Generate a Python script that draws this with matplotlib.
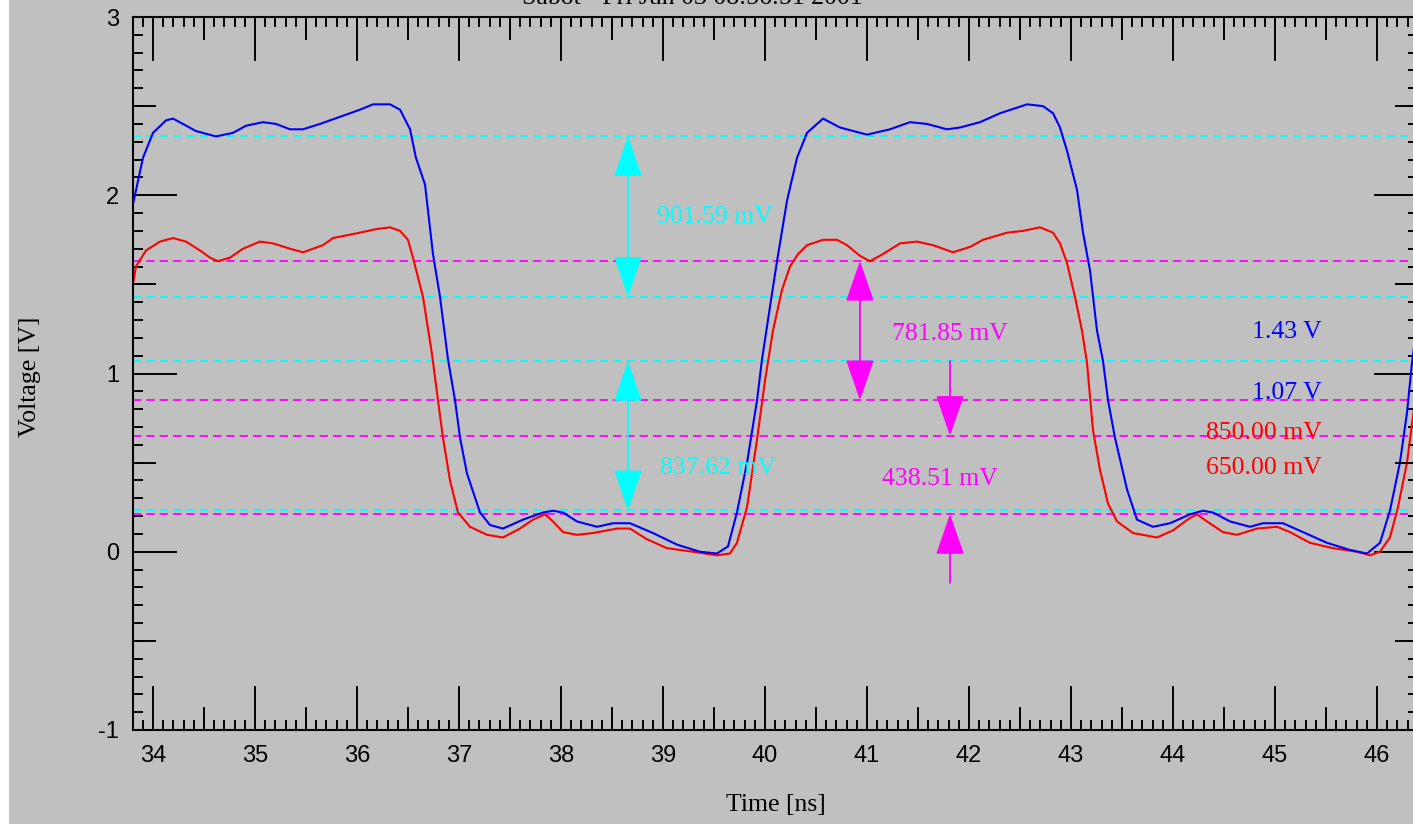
import numpy as np
import matplotlib
matplotlib.use('Agg')
import matplotlib.pyplot as plt
from matplotlib.ticker import MultipleLocator, FixedLocator
from matplotlib.patches import Rectangle, FancyArrowPatch

plt.rcParams['lines.scale_dashes'] = False
plt.rcParams['axes.unicode_minus'] = False

# --- data ---
t_blue = [33.804, 33.902, 34.000, 34.127, 34.196, 34.294, 34.422, 34.618, 34.784, 34.912,
          35.078, 35.206, 35.343, 35.471, 35.637, 35.833, 36.029, 36.157, 36.324, 36.422,
          36.520, 36.578, 36.667, 36.745, 36.814, 36.892, 36.961, 37.010, 37.078, 37.206,
          37.304, 37.431, 37.627, 37.824, 37.922, 38.020, 38.157, 38.353, 38.510, 38.676,
          38.902, 39.137, 39.363, 39.529, 39.637, 39.725, 39.824, 39.922, 39.971, 40.069,
          40.118, 40.216, 40.314, 40.412, 40.569, 40.735, 41.000, 41.225, 41.422, 41.588,
          41.784, 41.912, 42.108, 42.304, 42.569, 42.725, 42.824, 42.892, 42.961, 43.059,
          43.118, 43.186, 43.255, 43.314, 43.363, 43.431, 43.549, 43.647, 43.804, 43.971,
          44.167, 44.294, 44.392, 44.559, 44.755, 44.882, 45.078, 45.275, 45.510, 45.735,
          45.902, 46.029, 46.127, 46.225, 46.294, 46.343, 46.402]
v_blue = [1.95, 2.21, 2.35, 2.42, 2.43, 2.40, 2.36, 2.33, 2.35, 2.39,
          2.41, 2.40, 2.37, 2.37, 2.40, 2.44, 2.48, 2.51, 2.51, 2.48,
          2.37, 2.21, 2.06, 1.67, 1.43, 1.08, 0.85, 0.64, 0.44, 0.22,
          0.15, 0.13, 0.18, 0.22, 0.23, 0.22, 0.17, 0.14, 0.16, 0.16,
          0.105, 0.04, 0.00, -0.01, 0.03, 0.22, 0.50, 0.85, 1.08, 1.45,
          1.63, 1.97, 2.21, 2.35, 2.43, 2.38, 2.34, 2.37, 2.41, 2.40,
          2.37, 2.38, 2.41, 2.46, 2.51, 2.50, 2.46, 2.38, 2.25, 2.03,
          1.79, 1.58, 1.24, 1.07, 0.85, 0.64, 0.35, 0.18, 0.14, 0.16,
          0.21, 0.23, 0.22, 0.17, 0.14, 0.16, 0.16, 0.11, 0.05, 0.01,
          -0.01, 0.05, 0.23, 0.50, 0.78, 1.06, 1.32]

t_red = [33.804, 33.833, 33.931, 34.069, 34.196, 34.324, 34.461, 34.559, 34.637, 34.755,
         34.882, 35.049, 35.176, 35.343, 35.471, 35.667, 35.765, 36.029, 36.186, 36.324,
         36.422, 36.500, 36.549, 36.647, 36.735, 36.794, 36.843, 36.912, 36.990, 37.108,
         37.275, 37.431, 37.598, 37.725, 37.843, 37.922, 38.020, 38.157, 38.314, 38.549,
         38.676, 38.843, 39.039, 39.294, 39.529, 39.657, 39.725, 39.824, 39.922, 40.000,
         40.078, 40.167, 40.245, 40.324, 40.412, 40.569, 40.706, 40.804, 40.931, 41.029,
         41.157, 41.324, 41.490, 41.647, 41.843, 42.010, 42.137, 42.373, 42.529, 42.696,
         42.824, 42.892, 42.961, 43.039, 43.108, 43.157, 43.216, 43.284, 43.363, 43.451,
         43.608, 43.843, 44.000, 44.167, 44.235, 44.333, 44.490, 44.627, 44.824, 45.020,
         45.147, 45.343, 45.569, 45.804, 45.931, 46.029, 46.127, 46.206, 46.294, 46.353,
         46.402]
v_red = [1.50, 1.60, 1.69, 1.74, 1.76, 1.74, 1.69, 1.65, 1.63, 1.65,
         1.70, 1.74, 1.73, 1.70, 1.68, 1.72, 1.76, 1.79, 1.81, 1.82,
         1.80, 1.75, 1.65, 1.43, 1.11, 0.85, 0.64, 0.40, 0.22, 0.14,
         0.095, 0.08, 0.13, 0.18, 0.21, 0.17, 0.11, 0.095, 0.105, 0.13,
         0.13, 0.07, 0.02, 0.00, -0.02, -0.01, 0.05, 0.25, 0.63, 0.96,
         1.24, 1.47, 1.60, 1.67, 1.72, 1.75, 1.75, 1.72, 1.66, 1.63,
         1.67, 1.73, 1.74, 1.72, 1.68, 1.71, 1.75, 1.79, 1.80, 1.82,
         1.79, 1.73, 1.62, 1.43, 1.24, 1.06, 0.68, 0.46, 0.27, 0.17,
         0.105, 0.08, 0.12, 0.19, 0.21, 0.17, 0.11, 0.095, 0.13, 0.14,
         0.11, 0.05, 0.02, 0.00, -0.02, 0.00, 0.08, 0.25, 0.50, 0.76,
         0.95]

# cursor levels (V)
cyan_levels = [2.3316, 1.43, 1.07, 0.2324]
magenta_levels = [1.6319, 0.85, 0.65, 0.2115]

# measurement arrows: (t, from, to, color, style)
arrows = [
    (38.657, 2.3316, 1.43, '#00ffff', '<|-|>'),
    (38.657, 1.07, 0.2324, '#00ffff', '<|-|>'),
    (40.931, 1.6319, 0.85, '#ff00ff', '<|-|>'),
    (41.814, 1.07, 0.65, '#ff00ff', '-|>'),
    (41.814, -0.175, 0.2115, '#ff00ff', '-|>'),
]

# measurement texts: (t, v, text, color, ha)
labels = [
    (38.94, 1.88, '901.59 mV', '#00ffff', 'left'),
    (38.97, 0.47, '837.62 mV', '#00ffff', 'left'),
    (41.25, 1.22, '781.85 mV', '#ff00ff', 'left'),
    (41.15, 0.41, '438.51 mV', '#ff00ff', 'left'),
    (45.46, 1.233, '1.43 V', '#0000ff', 'right'),
    (45.46, 0.89, '1.07 V', '#0000ff', 'right'),
    (45.46, 0.665, '850.00 mV', '#ff0000', 'right'),
    (45.46, 0.47, '650.00 mV', '#ff0000', 'right'),
]

bg = '#c0c0c0'
W, H = 1413, 824
xlim = (33.804, 46.402)
ylim = (-1, 3)

fig = plt.figure(figsize=(W / 100, H / 100), dpi=100)
fig.patch.set_facecolor(bg)
fig.patches.append(Rectangle((0, 0), 9 / W, 1, transform=fig.transFigure,
                             facecolor='white', edgecolor='none'))

rect = [133 / W, (H - 730) / H, (1418 - 133) / W, (730 - 17) / H]
ax = fig.add_axes(rect)
ax.set_facecolor(bg)
ax.set_xlim(*xlim)
ax.set_ylim(*ylim)

for lv in cyan_levels:
    ax.axhline(lv, color='#00ffff', lw=1.3, dashes=(6, 3.6), zorder=1)
for lv in magenta_levels:
    ax.axhline(lv, color='#ff00ff', lw=1.3, dashes=(6, 3.6), zorder=1)

ax.plot(t_red, v_red, color='#ff0000', lw=1.5, zorder=2)
ax.plot(t_blue, v_blue, color='#0000ff', lw=1.5, zorder=3)

for t, a, b, c, st in arrows:
    ax.add_patch(FancyArrowPatch((t, a), (t, b), arrowstyle=st + ',head_length=26,head_width=9',
                                 mutation_scale=1, color=c, lw=1.3, shrinkA=0, shrinkB=0, zorder=4))

for t, v, s, c, ha in labels:
    ax.text(t, v, s, color=c, ha=ha, va='center', family='Liberation Serif', fontsize=18.5, zorder=5)

# ticks: integers long, tenths short
for sp in ax.spines.values():
    sp.set_linewidth(1.5)
ax.xaxis.set_major_locator(MultipleLocator(1))
ax.xaxis.set_minor_locator(MultipleLocator(0.1))
ax.yaxis.set_major_locator(MultipleLocator(1))
ax.yaxis.set_minor_locator(MultipleLocator(0.1))
ax.tick_params(which='both', direction='in', top=True, right=True, width=1.4, color='black')
ax.tick_params(which='major', length=32, labelsize=17, pad=11)
ax.tick_params(axis='y', which='major', pad=10)
ax.tick_params(which='minor', length=7.2)
for lab in ax.get_xticklabels() + ax.get_yticklabels():
    lab.set_family('Liberation Sans')

# half-unit ticks on a transparent overlay (not shared, so locators stay separate)
axh = fig.add_axes(rect)
axh.set_xlim(*xlim)
axh.set_ylim(*ylim)
axh.patch.set_visible(False)
for sp in axh.spines.values():
    sp.set_visible(False)
axh.xaxis.set_major_locator(FixedLocator(np.arange(33.5, 47, 1)))
axh.yaxis.set_major_locator(FixedLocator(np.arange(-0.5, 3, 1)))
axh.xaxis.set_minor_locator(FixedLocator([]))
axh.yaxis.set_minor_locator(FixedLocator([]))
axh.tick_params(which='major', direction='in', top=True, right=True, bottom=True, left=True,
                length=16.5, width=1.4, labelbottom=False, labelleft=False)

fig.text(776 / W, (H - 805) / H, 'Time [ns]', ha='center', va='center',
         family='Liberation Serif', fontsize=18.5)
fig.text(30 / W, (H - 377) / H, 'Voltage [V]', ha='center', va='center', rotation=90,
         family='Liberation Serif', fontsize=18.5)
# title sits mostly above the top edge, as in the screenshot
fig.text(692 / W, 1 - 4 / H, 'Sabot - Fri Jun 03 08:56:51 2001', ha='center', va='baseline',
         family='Liberation Serif', fontsize=18.5)

fig.savefig('out.png', dpi=100, facecolor=fig.get_facecolor())
